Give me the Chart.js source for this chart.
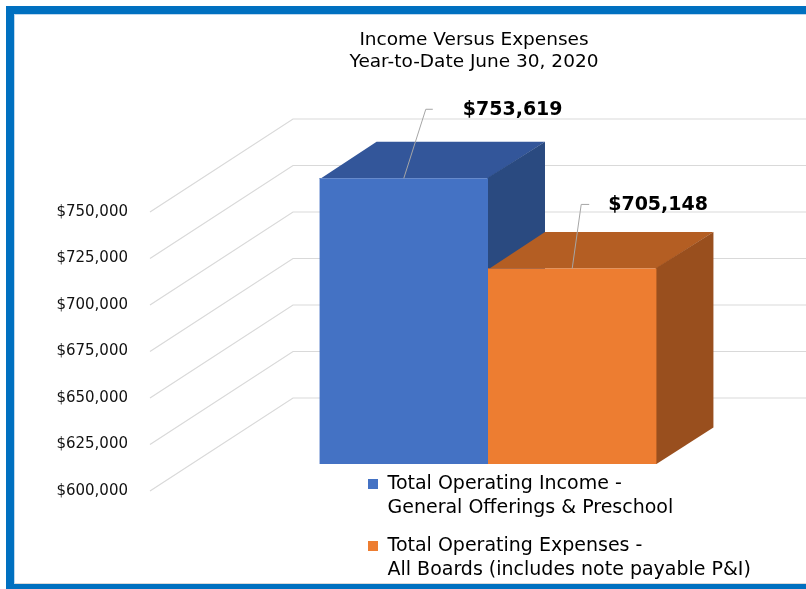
<!DOCTYPE html>
<html><head><meta charset="utf-8">
<script src="https://cdn.jsdelivr.net/npm/chart.js@4.4.1/dist/chart.umd.min.js"></script>
<style>
html,body{margin:0;padding:0;background:#fff;}
#wrap{position:relative;width:806px;height:589px;overflow:hidden;background:#fff;}
canvas{position:absolute;left:0;top:0;}
#frame{position:absolute;left:6px;top:6px;width:840px;height:586px;box-sizing:border-box;border:8px solid #0070C0;pointer-events:none;box-shadow:inset 1px 1px 0 #BDD7EE, inset 0 -1px 0 #D9D9D9;}
</style></head><body>
<div id="wrap"><canvas id="c" width="806" height="589"></canvas><div id="frame"></div></div>
<script>
// ---- data ----
const categories = [''];
const seriesNames = [
  'Total Operating Income -\nGeneral Offerings & Preschool',
  'Total Operating Expenses -\nAll Boards (includes note payable P&I)'
];
const incomeValues = [753619];
const expenseValues = [705148];
const tickValues = [600000, 625000, 650000, 675000, 700000, 725000, 750000];
const titleLines = ['Income Versus Expenses', 'Year-to-Date June 30, 2020'];

// ---- presentation ----
const fmt = v => '$' + Number(v).toLocaleString('en-US');
const GEO = { depth: {dx: 57, dy: -36.5}, floorFront: {dx: -42, dy: 27}, backWall: {dx: 101, dy: -66} };
const FACE = [{top: '#33569A', side: '#2A4A80'}, {top: '#B45E23', side: '#994F1E'}];
const LEADERS = [{dx: 22, dy: -69, tick: 7, gap: 30}, {dx: 9, dy: -64, tick: 8, gap: 19}];

const threeD = {
  id: 'threeD',
  afterLayout(chart) {
    const t = chart.titleBlock;
    if (t) { const s = 474 - (t.left + t.right) / 2; t.left += s; t.right += s; }
    const lg = chart.legend;
    if (lg) { lg.left = 354; lg.right = 806; lg.top = 460.5; lg.bottom = 589; }
  },
  beforeDatasetsDraw(chart) {
    const {ctx, chartArea, scales: {y}} = chart;
    ctx.save();
    ctx.strokeStyle = '#D9D9D9';
    ctx.lineWidth = 1.2;
    tickValues.forEach(v => {
      const py = y.getPixelForValue(v);
      const fx = chartArea.left + GEO.floorFront.dx, fy = py + GEO.floorFront.dy;
      const bx = chartArea.left + GEO.backWall.dx, by = py + GEO.backWall.dy;
      ctx.beginPath(); ctx.moveTo(fx, fy); ctx.lineTo(bx, by); ctx.lineTo(chart.width, by); ctx.stroke();
    });
    chart.data.datasets.forEach((ds, i) => {
      const meta = chart.getDatasetMeta(i);
      meta.data.forEach(el => {
        const p = el.getProps(['x', 'y', 'base', 'width'], true);
        const l = p.x - p.width / 2, r = p.x + p.width / 2, dx = GEO.depth.dx, dy = GEO.depth.dy;
        ctx.fillStyle = FACE[i].top;
        ctx.beginPath();
        ctx.moveTo(l, p.y + 1); ctx.lineTo(l, p.y); ctx.lineTo(r, p.y);
        ctx.lineTo(r + dx, p.y + dy); ctx.lineTo(l + dx, p.y + dy); ctx.closePath(); ctx.fill();
        ctx.fillStyle = FACE[i].side;
        ctx.beginPath();
        ctx.moveTo(r - 1, p.y); ctx.lineTo(r + dx, p.y + dy); ctx.lineTo(r + dx, p.base + dy);
        ctx.lineTo(r, p.base); ctx.lineTo(r - 1, p.base); ctx.closePath(); ctx.fill();
      });
    });
    ctx.restore();
  },
  afterDatasetsDraw(chart) {
    const ctx = chart.ctx;
    ctx.save();
    chart.data.datasets.forEach((ds, i) => {
      const meta = chart.getDatasetMeta(i);
      meta.data.forEach((el, j) => {
        const L = LEADERS[i];
        const x0 = el.x, y0 = el.y, x1 = x0 + L.dx, y1 = y0 + L.dy;
        ctx.strokeStyle = '#A6A6A6'; ctx.lineWidth = 1;
        ctx.beginPath(); ctx.moveTo(x0, y0); ctx.lineTo(x1, y1); ctx.lineTo(x1 + L.tick, y1); ctx.stroke();
        ctx.fillStyle = '#000';
        ctx.font = 'bold 19px "DejaVu Sans"';
        ctx.textAlign = 'left'; ctx.textBaseline = 'middle';
        ctx.fillText(fmt(ds.data[j]), x1 + L.tick + L.gap, y1 + 1);
      });
    });
    ctx.restore();
  }
};

new Chart(document.getElementById('c'), {
  type: 'bar',
  data: {
    labels: categories,
    datasets: [
      {label: seriesNames[0], data: incomeValues, backgroundColor: '#4472C4', borderWidth: 0, clip: false,
       base: tickValues[0], categoryPercentage: 0.569, barPercentage: 1},
      {label: seriesNames[1], data: expenseValues, backgroundColor: '#ED7D31', borderWidth: 0, clip: false,
       base: tickValues[0], categoryPercentage: 0.569, barPercentage: 1}
    ]
  },
  options: {
    responsive: false,
    animation: false,
    devicePixelRatio: 1,
    layout: {padding: {left: 0, right: 22, top: 0, bottom: 125}},
    scales: {
      x: {display: false},
      y: {
        min: 600000, max: 750000,
        afterBuildTicks: s => { s.ticks = tickValues.map(v => ({value: v})); },
        afterFit: s => { s.width = 192; },
        grid: {display: false, drawTicks: false},
        border: {display: false},
        ticks: {padding: 64, labelOffset: 27, color: '#111', font: {family: 'DejaVu Sans', size: 15}, callback: v => fmt(v)}
      }
    },
    plugins: {
      title: {
        display: true, text: titleLines, color: '#000',
        font: {family: 'DejaVu Sans', size: 18.5, weight: 'normal', lineHeight: 22.5 / 18.5},
        padding: {top: 28.75, bottom: 111.25}
      },
      legend: {
        position: 'chartArea', align: 'start',
        labels: {
          boxWidth: 10, boxHeight: 10, padding: 14, color: '#000',
          font: {family: 'DejaVu Sans', size: 19, lineHeight: 24 / 19},
          generateLabels(chart) {
            const items = Chart.defaults.plugins.legend.labels.generateLabels(chart);
            return items.map(it => Object.assign(it, {text: String(it.text).split('\n')}))
                        .sort((a, b) => a.datasetIndex - b.datasetIndex);
          }
        }
      },
      tooltip: {enabled: false}
    }
  },
  plugins: [threeD]
});
</script>
</body></html>
